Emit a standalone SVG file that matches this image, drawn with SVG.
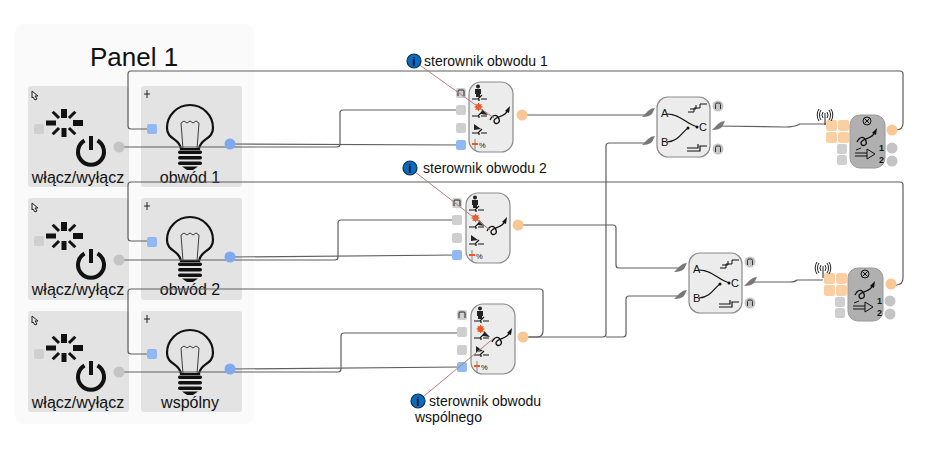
<svg xmlns="http://www.w3.org/2000/svg" xmlns:xlink="http://www.w3.org/1999/xlink" width="936" height="451" viewBox="0 0 936 451">
<style>
text{font-family:"Liberation Sans",Arial,sans-serif;fill:#111}
.tile{fill:#e3e3e3}
.gs{fill:#cfcfcf}
.bs{fill:#8fb8f5}
.os{fill:#f9cfa3}
.gc{fill:#c4c4c4}
.bc{fill:#7fa8ee}
.oc{fill:#f9c794}
.wire{fill:none;stroke:#5f5f5f;stroke-width:1.2}
.note{fill:none;stroke:#b08080;stroke-width:1}
.ink{fill:none;stroke:#111;stroke-width:1.2}
.thin{fill:none;stroke:#111;stroke-width:1}
.body{fill:#ececec;stroke:#8a8a8a;stroke-width:1.2}
.lab{font-size:16px;text-anchor:middle}
.inf{font-size:14px}
.ic{fill:#0b6cbd;stroke:#0a2f55;stroke-width:1.2}
</style>
<defs>
<g id="sw">
<g fill="#111"><rect x="-3" y="-14" width="6" height="9"/><rect x="-2.500" y="5" width="5" height="9"/><rect x="-18" y="-2.500" width="10" height="5"/><rect x="9" y="-3" width="10" height="6"/>
<rect x="-1.500" y="-16" width="3" height="9" transform="rotate(45)"/><rect x="-1.500" y="-16" width="3" height="9" transform="rotate(-45)"/><rect x="-1.500" y="7" width="3" height="9" transform="rotate(45)"/><rect x="-1.500" y="7" width="3" height="9" transform="rotate(-45)"/></g>
</g>
<g id="pw" fill="none" stroke="#111" stroke-width="4">
<path d="M-6.500-10.500A13 13 0 1 0 6.500-10.500"/><path d="M0-15V-1"/>
</g>
<g id="bulb">
<path d="M-9 21C-10 10-23 12-23 0A23 23 0 0 1 23 0C23 12 10 10 9 21Z" fill="none" stroke="#111" stroke-width="2.200"/>
<path d="M-7 21L-9-5L-6-7L-3-5L0-7L3-5L6-7L9-5L7 21" fill="none" stroke="#111" stroke-width=".8"/>
<g fill="#111"><rect x="-12" y="22.500" width="24" height="3.500" rx="1.700"/><rect x="-12" y="28" width="24" height="3.500" rx="1.700"/><rect x="-12" y="33.500" width="24" height="3.500" rx="1.700"/><path d="M-8 38.500H8L3 42H-3Z"/></g>
</g>
<g id="cur"><path d="M-10 4C-7-2-3-2-1 3C1 8-6 9-6 5C-6 0 5 2 8-6" fill="none" stroke="#111" stroke-width="1.400"/><path d="M10-10L9-3L5-5Z" fill="#111"/></g>
<g id="cs"><path d="M-7 1H-1L3-3M2 1H8M0 1V3" class="ink"/></g>
<g id="mod">
<rect x="0" y="0" width="44" height="70" rx="12" class="body"/>
<circle cx="9" cy="4.500" r="2" fill="#222"/><path d="M6 7H12V12H11V15H7V12H6Z" fill="#222"/>
<use xlink:href="#cs" href="#cs" x="10" y="16"/>
<circle cx="9.500" cy="25" r="3" fill="#f0561e"/><path d="M9.500 21V29M5.500 25H13.500M6.500 22L12.500 28M12.500 22L6.500 28" stroke="#f0561e"/>
<path d="M13 27L19 33L12 32Z" fill="#222"/><use xlink:href="#cs" href="#cs" x="10" y="33"/>
<path d="M5 42L12 47L5 48Z" fill="#222"/><use xlink:href="#cs" href="#cs" x="10" y="50"/>
<path d="M6 57V69" stroke="#888"/><path d="M3 62H9" stroke="#f0561e" stroke-width="2"/>
<text x="10" y="66" font-size="7.500">%</text>
<use xlink:href="#cur" href="#cur" x="31" y="34"/>
</g>
<g id="ports">
<rect x="-5" y="-5" width="10" height="10" rx="2" class="gs"/><path d="M-3 3V-2Q-3-3-2-3H2Q3-3 3-2V3" fill="none" stroke="#222"/>
<rect x="-5" y="12" width="10" height="10" rx="2" class="gs"/>
<rect x="-5" y="30" width="10" height="10" rx="2" class="gs"/>
<rect x="-5" y="47" width="10" height="10" rx="2" class="bs"/>
</g>
<g id="swt">
<rect x="0" y="0" width="53" height="60" rx="11" class="body"/>
<path d="M31 15H37V11H43V7H50M33 12H39V8" class="thin"/>
<path d="M30 54H43V49H50M30 51H41V47" class="ink"/>
<text x="4" y="20" font-size="11">A</text><text x="4" y="49" font-size="11">B</text><text x="42" y="34" font-size="11">C</text>
<path d="M10 17C24 17 30 28 41 30" class="ink"/><path d="M10 45C22 44 25 35 31 31" class="ink"/>
<circle cx="40" cy="30" r="1.500" fill="#111"/><circle cx="31" cy="31" r="1.500" fill="#111"/>
</g>
<path id="pin" d="M-6 4L0-2Q3-5 7-5L4 1Q1 4-6 4Z" fill="#777"/>
<g id="oport"><circle r="5.500" class="gc"/><path d="M-2.500 3V-1.500Q-2.500-3-1-3H1Q2.500-3 2.500-1.500V3" fill="none" stroke="#333"/></g>
<g id="end">
<rect x="0" y="0" width="35" height="53" rx="10" fill="#b0b0b0" stroke="#999"/>
<circle cx="17" cy="6" r="4" fill="none" stroke="#111"/><path d="M14.500 3.500L19.500 8.500M19.500 3.500L14.500 8.500" stroke="#111"/>
<use xlink:href="#cur" href="#cur" x="17" y="23"/>
<path d="M17 34V44L25 39ZM5 38H17M5 41H17M6 35L11 33" class="thin"/>
<text x="29" y="36" font-size="9" font-weight="bold">1</text><text x="29" y="48" font-size="9" font-weight="bold">2</text>
<rect x="-24" y="5" width="11" height="11" rx="2" class="os"/><rect x="-12" y="5" width="11" height="11" rx="2" class="os"/><rect x="-24" y="17" width="11" height="11" rx="2" class="os"/><rect x="-12" y="17" width="11" height="11" rx="2" class="os"/>
<rect x="-13" y="29" width="10" height="10" rx="2" class="gs"/><rect x="-13" y="40" width="10" height="10" rx="2" class="gs"/>
<circle cx="42" cy="33" r="5.500" class="gc"/><circle cx="42" cy="46" r="5.500" class="gc"/>
</g>
<g id="ant"><path d="M0-2V10M-2 3A2.500 4 0 0 1-2-3M2-3A2.500 4 0 0 1 2 3M-4 5A5 7 0 0 1-4-5M4-5A5 7 0 0 1 4 5M-6 6A7 9 0 0 1-6-6M6-6A7 9 0 0 1 6 6" fill="none" stroke="#222" stroke-width="1"/></g>
<g id="ptr"><path d="M-3-4L3 1L0 1L2 4L0 5L-2 2L-3 3Z" fill="none" stroke="#222"/></g>
<g id="plus"><path d="M0-4V4M-3 0H3" stroke="#222"/></g>
</defs>

<rect id="panel" x="15" y="24" width="239" height="400" rx="9" fill="#fafafa"/>
<text x="134" y="66" font-size="26" text-anchor="middle">Panel 1</text>

<g id="sw1"><rect x="28" y="86" width="101" height="101" rx="3" class="tile"/><use xlink:href="#ptr" href="#ptr" x="35" y="95"/><use xlink:href="#sw" href="#sw" x="64" y="123"/><rect x="34" y="124" width="10" height="10" rx="2" class="gs"/><use xlink:href="#pw" href="#pw" x="91" y="151"/><text class="lab" x="78" y="183">włącz/wyłącz</text></g>
<g id="lamp1"><rect x="141" y="86" width="101" height="101" rx="3" class="tile"/><use xlink:href="#plus" href="#plus" x="147" y="94"/><use xlink:href="#bulb" href="#bulb" x="190" y="128"/><text class="lab" x="190" y="183">obwód 1</text></g>
<g id="sw2"><rect x="28" y="198" width="101" height="102" rx="3" class="tile"/><use xlink:href="#ptr" href="#ptr" x="35" y="207"/><use xlink:href="#sw" href="#sw" x="64" y="236"/><rect x="34" y="236" width="10" height="10" rx="2" class="gs"/><use xlink:href="#pw" href="#pw" x="91" y="264"/><text class="lab" x="78" y="295">włącz/wyłącz</text></g>
<g id="lamp2"><rect x="141" y="198" width="101" height="102" rx="3" class="tile"/><use xlink:href="#plus" href="#plus" x="147" y="206"/><use xlink:href="#bulb" href="#bulb" x="190" y="240"/><text class="lab" x="190" y="295">obwód 2</text></g>
<g id="sw3"><rect x="28" y="311" width="101" height="101" rx="3" class="tile"/><use xlink:href="#ptr" href="#ptr" x="35" y="320"/><use xlink:href="#sw" href="#sw" x="64" y="348"/><rect x="34" y="349" width="10" height="10" rx="2" class="gs"/><use xlink:href="#pw" href="#pw" x="91" y="376"/><text class="lab" x="78" y="408">włącz/wyłącz</text></g>
<g id="lamp3"><rect x="141" y="311" width="101" height="101" rx="3" class="tile"/><use xlink:href="#plus" href="#plus" x="147" y="319"/><use xlink:href="#bulb" href="#bulb" x="190" y="353"/><text class="lab" x="190" y="408">wspólny</text></g>

<g id="connectors">
<path class="wire" d="M152 129H131Q128 129 128 126V74Q128 71 131 71H900Q903 71 903 74V123Q903 130 896 130H892"/>
<path class="wire" d="M119 147H337Q340 147 340 144V113Q340 110 343 110H461"/>
<path class="wire" d="M230 144L461 145"/>
<path class="wire" d="M522 115H640L648 115"/>
<path class="wire" d="M152 241H131Q128 241 128 238V185Q128 182 131 182H900Q903 182 903 185V278Q903 285 896 285H892"/>
<path class="wire" d="M119 260H335Q338 260 338 257V223Q338 220 341 220H457"/>
<path class="wire" d="M230 257L457 255"/>
<path class="wire" d="M518 225H613Q616 225 616 228V265Q616 268 619 268H680"/>
<path class="wire" d="M152 354H131Q128 354 128 351V292Q128 289 131 289H540Q543 289 543 292V331Q543 337 537 337H523"/>
<path class="wire" d="M119 372H338Q341 372 341 369V336Q341 333 344 333H461"/>
<path class="wire" d="M230 369L461 367"/>
<path class="wire" d="M523 337H603Q606 337 606 334V146Q606 143 609 143H648"/>
<path class="wire" d="M606 337H623Q626 337 626 334V299Q626 296 629 296H680"/>
<path class="wire" d="M717 126L785 127Q795 127 800 124H826"/>
<path class="wire" d="M750 282H790Q795 282 797 280H823"/>
</g>

<g id="ports-tiles">
<rect x="147" y="124" width="10" height="10" rx="2" class="bs"/><circle cx="230" cy="144" r="5.500" class="bc"/><circle cx="119" cy="147" r="5.500" class="gc"/>
<rect x="147" y="237" width="10" height="10" rx="2" class="bs"/><circle cx="230" cy="257" r="5.500" class="bc"/><circle cx="119" cy="260" r="5.500" class="gc"/>
<rect x="147" y="349" width="10" height="10" rx="2" class="bs"/><circle cx="230" cy="369" r="5.500" class="bc"/><circle cx="119" cy="372" r="5.500" class="gc"/>
</g>

<g id="ctrl1"><use xlink:href="#ports" href="#ports" x="461" y="93"/><use xlink:href="#mod" href="#mod" x="469" y="82"/><circle cx="522" cy="115" r="5.500" class="oc"/></g>
<g id="ctrl2"><use xlink:href="#ports" href="#ports" x="457" y="203"/><use xlink:href="#mod" href="#mod" x="466" y="193"/><circle cx="518" cy="225" r="5.500" class="oc"/></g>
<g id="ctrl3"><use xlink:href="#ports" href="#ports" x="462" y="315"/><use xlink:href="#mod" href="#mod" x="471" y="304"/><circle cx="523" cy="337" r="5.500" class="oc"/></g>

<g id="sel1"><use xlink:href="#swt" href="#swt" x="657" y="97"/><use xlink:href="#pin" href="#pin" x="648" y="113"/><use xlink:href="#pin" href="#pin" x="648" y="141"/><use xlink:href="#oport" href="#oport" x="718" y="106"/><use xlink:href="#pin" href="#pin" x="718" y="126"/><use xlink:href="#oport" href="#oport" x="718" y="149"/></g>
<g id="sel2"><use xlink:href="#swt" href="#swt" x="689" y="253"/><use xlink:href="#pin" href="#pin" x="680" y="268"/><use xlink:href="#pin" href="#pin" x="680" y="295"/><use xlink:href="#oport" href="#oport" x="750" y="262"/><use xlink:href="#pin" href="#pin" x="750" y="282"/><use xlink:href="#oport" href="#oport" x="750" y="303"/></g>

<g id="out1"><use xlink:href="#end" href="#end" x="850" y="115"/><circle cx="892" cy="130" r="5.500" class="oc"/><use xlink:href="#ant" href="#ant" x="825" y="115"/></g>
<g id="out2"><use xlink:href="#end" href="#end" x="848" y="268"/><circle cx="891" cy="284" r="5.500" class="oc"/><use xlink:href="#ant" href="#ant" x="823" y="268"/></g>

<g id="note1"><path class="note" d="M414 61L494 118"/><circle class="ic" cx="414" cy="61" r="7"/><text x="414" y="65.500" font-size="12" font-weight="bold" text-anchor="middle">i</text><text class="inf" x="424" y="66">sterownik obwodu 1</text></g>
<g id="note2"><path class="note" d="M410 168L490 230"/><circle class="ic" cx="410" cy="168" r="7"/><text x="410" y="172.500" font-size="12" font-weight="bold" text-anchor="middle">i</text><text class="inf" x="423" y="173">sterownik obwodu 2</text></g>
<g id="note3"><path class="note" d="M418 401L494 338"/><circle class="ic" cx="418" cy="401" r="7"/><text x="418" y="405.500" font-size="12" font-weight="bold" text-anchor="middle">i</text><text class="inf" x="429" y="406">sterownik obwodu</text><text class="inf" x="415" y="422">wspólnego</text></g>
</svg>
